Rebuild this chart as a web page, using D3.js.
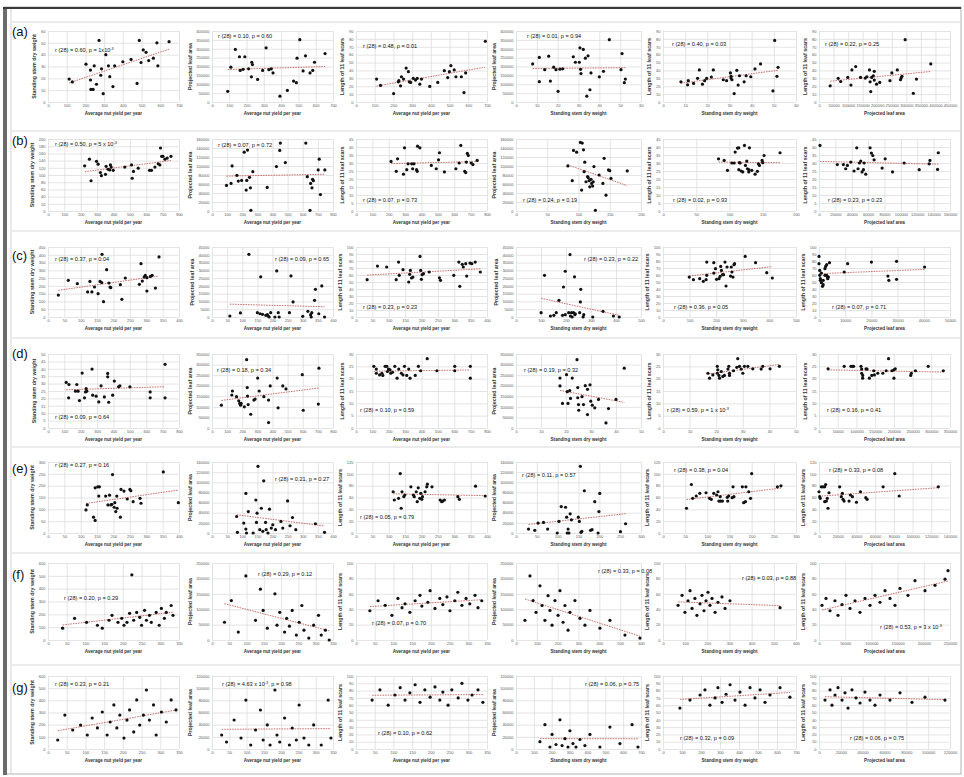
<!DOCTYPE html>
<html><head><meta charset="utf-8">
<script src="https://cdn.jsdelivr.net/npm/d3@7"></script>
<style>
body{margin:0;background:#fff}
svg{display:block}
text{font-family:"Liberation Sans",Arial,sans-serif}
</style>
</head><body>
<svg id="fig" width="964" height="777"></svg>
<script>
// Column titles (x variable, y variable) shared by every row
const xTitles = ["Average nut yield per year","Average nut yield per year","Average nut yield per year","Standing stem dry weight","Standing stem dry weight","Projected leaf area"];
const yTitles = ["Standing stem dry weight","Projected leaf area","Length of 11 leaf scars","Projected leaf area","Length of 11 leaf scars","Length of 11 leaf scars"];
const rowLetters = ["a","b","c","d","e","f","g"];

// Axis ranges per panel: [xMin, xMax, xStep, yMin, yMax, yStep]
const axesA = [[0,700,100,0,60,10],[0,700,100,0,400000,50000],[0,700,100,0,90,10],[0,60,10,0,400000,50000],[0,60,10,0,90,10],[0,450000,50000,0,90,10]];
const axesB = [[0,800,100,0,200,20],[0,800,100,0,160000,20000],[0,800,100,0,45,5],[0,200,50,0,160000,20000],[0,200,50,0,45,5],[0,160000,20000,0,45,5]];
const axesC = [[0,400,50,0,450,50],[0,400,50,0,45000,5000],[0,400,50,0,100,10],[0,500,100,0,45000,5000],[0,500,100,0,100,10],[0,50000,10000,0,100,10]];
const axesD = [[0,800,100,0,50,5],[0,800,100,0,350000,50000],[0,800,100,0,30,5],[0,50,10,0,350000,50000],[0,50,10,0,30,5],[0,350000,50000,0,30,5]];
const axesE = [[0,400,50,0,300,50],[0,400,50,0,140000,20000],[0,400,50,0,120,20],[0,300,50,0,140000,20000],[0,300,50,0,120,20],[0,140000,20000,0,120,20]];
const axesF = [[0,350,50,0,600,100],[0,350,50,0,250000,50000],[0,350,50,0,100,20],[0,600,100,0,250000,50000],[0,600,100,0,100,20],[0,250000,50000,0,100,20]];
const axesG = [[0,350,50,0,600,100],[0,350,50,0,120000,20000],[0,350,50,0,100,10],[0,700,100,0,120000,20000],[0,700,100,0,100,10],[0,120000,20000,0,100,10]];

// Correlation statements (^ marks an exponent)
const notesA = ["r (28) = 0.60, p = 1x10^-3","r (28) = 0.10, p = 0.60","r (28) = 0.48, p = 0.01","r (28) = 0.01, p = 0.94","r (28) = 0.40, p = 0.03","r (28) = 0.22, p = 0.25"];
const notesB = ["r (28) = 0.50, p = 5 x 10^-3","r (28) = 0.07, p = 0.72","r (28) = 0.07, p = 0.73","r (28) = 0.24, p = 0.19","r (28) = 0.02, p = 0.93","r (28) = 0.23, p = 0.23"];
const notesC = ["r (28) = 0.37, p = 0.04","r (28) = 0.09, p = 0.65","r (28) = 0.23, p = 0.23","r (28) = 0.23, p = 0.22","r (28) = 0.36, p = 0.05","r (28) = 0.07, p = 0.71"];
const notesD = ["r (28) = 0.09, p = 0.64","r (28) = 0.18, p = 0.34","r (28) = 0.10, p = 0.59","r (28) = 0.19, p = 0.32","r (28) = 0.59, p = 1 x 10^-3","r (28) = 0.16, p = 0.41"];
const notesE = ["r (28) = 0.27, p = 0.16","r (28) = 0.21, p = 0.27","r (28) = 0.05, p = 0.79","r (28) = 0.11, p = 0.57","r (28) = 0.38, p = 0.04","r (28) = 0.33, p = 0.08"];
const notesF = ["r (28) = 0.20, p = 0.29","r (28) = 0.29, p = 0.12","r (28) = 0.07, p = 0.70","r (28) = 0.33, p = 0.08","r (28) = 0.03, p = 0.88","r (28) = 0.53, p = 3 x 10^-3"];
const notesG = ["r (28) = 0.23, p = 0.21","r (28) = 4.63 x 10^-3, p = 0.98","r (28) = 0.10, p = 0.62","r (28) = 0.06, p = 0.75","r (28) = 0.32, p = 0.09","r (28) = 0.06, p = 0.75"];

// ---- Row (a) ----
const a1x = [113,130,203,227,227,229,241,247,259,273,282,286,295,309,323,330,347,356,400,444,476,488,497,509,524,538,563,582,587,647];
const a1y = [19.4,17,32,27,18.6,10.6,10.6,30.6,15,52,22.6,28,7,40,30.6,21.4,13,30.6,34,36,15.7,52,33.4,44,42,35,37,50,30.6,51];
const a2x = [91,109,135,159,163,190,180,230,234,212,228,264,293,313,329,343,353,393,436,472,488,492,508,527,541,567,583,593,654];
const a2y = [60000,196000,296000,255000,178000,255000,184000,224000,211000,187000,142000,127000,178000,305000,182000,187000,164000,33000,65000,118000,109000,247000,351000,175000,260000,164000,178000,224000,273000];
const a3x = [110,131,201,226,229,238,243,254,268,280,285,292,306,318,327,341,350,394,437,472,490,499,507,525,534,563,577,586,691];
const a3y = [29,21,10.7,25.6,27,20.5,32,29,43,38.5,25.6,24.8,30,27.8,30,22.6,29,19.7,24.8,39.7,31,38.5,46,40.6,32,32,12,36.8,77];
const a4x = [8,11.2,11.2,13.8,15.7,16.5,18.1,19.2,20.2,21.1,22.4,27.5,28.5,30.4,30.7,31,31.2,32.3,33.3,34.6,35.5,36,34,40,42,44.8,50.4,50.9,52,52.5];
const a4y = [214500,251000,114500,182000,258000,118000,196000,182000,60000,185000,187000,255000,224000,224000,305000,184000,160000,296000,247000,260000,69000,164000,33000,142000,173000,351000,182000,273000,109000,129000];
const a5x = [8.1,11.1,11.4,13.8,15.6,16.4,17.8,18.8,19.7,21.8,22.7,27.2,28.7,30.4,30.7,30.7,31.1,32.1,33.3,33.9,34.5,36.6,37.5,39.6,41.5,44,49.6,50.4,51.4,51.9];
const a5y = [25.6,21.8,27,23.5,30,40.6,22.6,27,30,31.6,40.6,28.2,27,36.8,30.3,32.5,28.2,10.7,40.2,21.4,33.3,25.6,33.3,32,41.9,48.3,14.1,78,32.5,44];
const a6x = [38400,65900,74600,98800,109700,113000,126000,142700,159000,164600,173400,175600,177800,181100,186600,189900,189900,197600,208600,243700,250300,269000,280000,282000,285000,296000,334800,324000,384000];
const a6y = [20.5,30,26,31.2,21.4,40.6,44.9,31.2,30.3,32,40.6,25.6,13.2,31.2,33.3,38.9,27.8,22.6,24.8,27,36.8,40.6,28.2,30.3,32.5,79,29,11,48.3];

// ---- Row (b) ----
const b1x = [224,253,263,296,306,320,326,351,355,367,377,381,386,398,469,510,514,522,551,620,632,653,673,683,687,694,702,714,728,751];
const b1y = [125.6,144,84,138,130,107,98,102,124,116,114,128,122,113,122,128,91,110,119,113,113,122,131,128,175,152,152,144,147,152];
const b2x = [96,126,133,165,174,196,213,226,230,235,248,254,257,270,365,426,448,452,485,620,630,652,661,665,670,702,709,717,746,648];
const b2y = [56800,61300,100200,79300,66500,68000,130800,46400,68000,135300,74800,51600,1500,87500,52300,98700,134600,151000,107700,151000,76300,61300,51600,70300,67300,91200,115100,36600,91200,1500];
const b3x = [214,246,254,290,296,310,318,340,346,354,370,374,376,390,460,490,504,510,540,610,630,640,664,670,674,680,686,704,714,740];
const b3y = [31,24.8,32.6,23,39.5,25.8,29.5,29.5,26.4,29.5,25.8,24.8,40.5,39.5,28.5,26.4,32,36.4,24.4,26.4,30,41,24.8,24,30.6,36,34.7,30,29,31.6];
const b4x = [83,92,97,103,106,108,109,110,112,114.5,115.6,117,118,120,121,122.6,123.6,124.7,105,127,133,139,141,144,148,150,152,178,90];
const b4y = [100200,134600,130800,152500,151000,136000,87500,108400,65000,76300,74000,67300,53800,70300,61300,55300,65000,98700,46400,1500,80000,61300,117000,35100,91200,89700,72500,89000,67300];
const b5x = [83.5,92,97,103.5,107,108.5,112,114,114,115,116,117.5,120,122.5,124,126,127,129,129,130,133.5,138.5,142,143.5,145,149,150,152,176];
const b5y = [32.6,31.6,25.4,30,30,36.8,39.3,39.5,25.8,30.2,30,25,24.4,41,28.5,31.2,26.4,24.4,25.8,39.5,25.4,23,24.8,29.5,28.5,31.6,30.2,34.7,36.4];
const b6x = [1200,22400,29800,32600,34700,38800,42800,46100,47700,49400,51000,52600,54300,55100,57100,62400,64000,65700,67300,77100,80800,89800,104000,122400,134600,135500,144800,145700];
const b6y = [41,29,29,26.4,28.5,30.6,25,39.5,26.4,30,31.2,24.4,25.8,30,23,39.5,36.2,34.7,32,26.8,32.6,24.4,30,25.8,29.5,31.6,26,36.4];

// ---- Row (c) ----
const c1x = [31.6,62,89.5,121,128,134,142,153,158.9,164,165,169.5,179,186,189.5,191.6,221,225.6,236,279,284,288,293.7,297,302,312.6,318,302,328,339];
const c1y = [141,236,214,161,229,161,193,150,229,221,403,98.6,304,218.6,193,188.6,208,113.6,250.7,210,343,231,257,268,253,261,268,167,186,386];
const c2x = [59,94,122,150,159,161,167,178,183,189,186,194,208,214,219,222,256,261,268,300,317,326,328,330,339,342,353,363,372];
const c2y = [640,2600,40300,2800,2100,25800,1700,1070,1500,0,640,2800,0,29600,2800,0,2800,26400,9660,430,3650,1500,0,2800,10700,17800,2100,20000,0];
const c3x = [34,65.5,93.6,122.7,130,132,143.5,161,164,166,169.5,173.7,195.5,197.6,199.7,201.8,206,223.6,254.8,258,298.5,314,317,324.5,327.6,335,338,348,353.6,364,379.6];
const c3y = [53.3,72.8,71.4,53.3,78.5,59.5,67.6,50,61,66.6,55.7,57,86.6,66.6,53.8,60.5,61.9,64.3,56,52.4,59.5,78.5,43.8,75.2,71.4,76.2,58.5,77,76.2,78.5,64.3];
const c4x = [100.5,114,137.7,151.5,161,172,186,190,197,197,210.7,216,217.6,221.7,224.5,230,234,235.5,237,254.7,257.5,259,268.5,271,307,348,389.7,413];
const c4y = [2800,26800,640,1070,2800,10700,1070,19300,29400,1500,2800,40100,640,2800,0,2800,25800,1500,2100,2800,9660,17800,0,1500,0,3650,640,0];
const c5x = [98.7,114.5,138,151.6,162,164.5,164.5,191,191,197.4,201.3,210.6,214.5,217,219.7,223.7,227.6,232.9,236.9,240.8,254,256.6,259,263,267,269,309,348,390,411];
const c5y = [57.1,53.3,54.7,51,53.3,78.5,59.5,62.8,77.6,69,53.8,54.7,58,72.3,66.6,60.5,60.5,78.5,44.3,71.4,58.5,71.4,64.3,57.1,74.7,76.2,86.6,77.6,63.3,55.7];
const c6x = [0,0,270,270,530,530,930,930,1330,1600,1600,2270,2270,2530,2930,2930,3200,3330,3600,4000,9600,10930,20000,26300,26660,29600,29600,40300];
const c6y = [86.6,76.2,66.6,59.5,54.7,52.4,62.8,49,43.8,46.2,52.4,59.5,69,72.3,74.7,59.5,57.1,54.7,57.1,77.6,64.3,76.2,78.5,58.5,52.4,79.5,53.8,71.4];

// ---- Row (d) ----
const d1x = [111,126,128,168,176,184,192,208.6,223,229,233,237,269,273,294,310,324,344,364.5,364.5,370.6,395,405,431,439,500,624,624,715,715];
const d1y = [30.8,20.4,29.4,24.9,29.4,24.9,18.5,37.1,20.4,24.4,26.7,24.9,39.8,22.2,21.5,17.6,28.5,21,34.6,36.9,17.4,22.2,31.7,27.8,28.5,27.8,24.4,20.4,43,20.4];
const d2x = [62,131,135,162,177,183,189,193,214,229,233,239,235,256,277,285,302,312,343,374,374,385,431,437,468,489,597,603,707,703];
const d2y = [108000,156000,175000,148000,129000,116000,108000,116000,100000,323000,191000,111000,151000,65000,132000,137000,236000,175000,148000,132000,25500,199000,236000,95500,199000,185000,252000,84000,283000,113000];
const d3x = [109,124,124,144,158,164,178,188,192,198,208,212,223,237,251,261,277,287,296,310,322,330,362,381,395,435,494,603,603,698,698];
const d3y = [25,23.9,22.2,21.5,22.2,21.3,25,25,22.9,23.9,23.6,22.2,22.6,25,20.2,23.9,22.2,21.5,25,21.3,23.9,20.2,21.3,25,23.2,28.1,23.2,25,23.2,25,20.2];
const d4x = [17.6,17.6,18.6,20.2,20.5,20.8,21.5,21.8,22.5,24.4,24.7,24.7,25,25.1,26.4,27,27.7,28.6,28.6,29.6,29.9,30.5,31.5,33,36,37,40,43.3];
const d4y = [236000,199000,116000,252000,172000,116000,177000,140000,236000,323000,191000,143000,111000,84000,148000,111000,200000,183000,63700,204000,127000,108000,95500,135000,23900,92000,135000,283000];
const d5x = [16.9,17.5,18.75,20.4,20.4,20.6,21,21.25,21.9,22.5,23.1,24.4,24.75,25,25,26.5,27.75,28.1,28.75,29.4,30,30.6,31.9,33.75,36.9,37.5,40.25,43.75];
const d5y = [22.2,20.2,21.5,22.2,25,23.6,21.3,20.2,22.9,20.9,21.3,23.9,25,22.2,21.3,23.2,24.6,28.1,25,23.9,22.2,25,25,24,23.9,25,24,25];
const d6x = [24200,67300,85300,89800,92500,112200,114000,114000,116700,116700,125700,128400,134600,141000,146300,148100,157100,170500,179500,185800,194800,200200,200200,203700,245000,246800,257600,291700,332100];
const d6y = [24,25,25,25,25,25,23.9,22.2,21.3,20.2,24,23.9,20.2,21.3,23.2,21.5,22.2,22.2,23.2,28.1,23.2,23.6,20.2,24,21.3,22.2,23.2,25,23.2];

// ---- Row (e) ----
const e1x = [116,120,139,144,144,152,157,155,176,183,188,192,195,197,202,204,207,210,211,221,223,232,250,253,242,260,281,284,352,398];
const e1y = [97.6,118.6,67,53,191,195,195,156,156,118.6,160,118.6,121,247,108.8,128,90.7,156,104.6,67,184,177,184,178.6,143.7,132.5,146.5,125.6,258,128];
const e2x = [81.5,84,105,112,114,120,112,136,145,147,149,152,158,163,168,171,177,179,185,190,196,201,210,228,234,250,258,266,277,342,372];
const e2y = [32500,1300,19500,7800,0,42300,78100,0,65100,20800,39100,131500,6500,48800,3300,102900,20800,6500,0,46900,9800,16300,6500,22800,9800,63200,14300,30600,6500,18200,1300];
const e3x = [113.5,117,130,135,138,140.5,146,149,167.6,175,178,184,187,190,194.6,198,201,203,211,216,218,232,257,261.6,265,270,311,315.6,365,394.6];
const e3y = [69.7,55.8,58.6,100.4,41.8,69.7,61.4,64.2,78,64.2,61.4,69.7,53,76.4,58.6,67,57,61.4,69.7,78,82.6,78,55.8,53,54,55.8,61.4,57,79.2,62.5];
const e4x = [30,45,53,66,76,99,103,108.5,119,121.6,123,125,127,130,133,149.6,152,154.5,156,158,164,179,182.5,189,197,201,199,250.7,263];
const e4y = [7800,5200,19500,20800,7800,0,22800,52100,50800,31200,0,7800,0,37800,26000,31200,22800,131500,1300,3300,83300,5200,6500,61800,0,78100,42300,2600,18200];
const e5x = [53,64,67,75,83,97,105,109,114.5,121,124,126,129,130,134,145,146,148,156,158,160,179,182,186,187,193.5,197.5,200,258,266];
const e5y = [41.8,82,58.6,62.5,67,68,58.6,57,67,64.2,69.7,54,61.4,54,54,60.3,54,62.5,59.7,78,61.4,78,51.3,53,78,69.7,58.6,100.4,78,79.8];
const e6x = [0,700,1400,2500,4300,6100,6100,7100,7900,8900,9600,10700,22100,23900,25000,25700,26800,32100,33600,35700,40000,44300,50000,51400,68500,81000,85700,127500];
const e6y = [69.7,61.4,58.6,78,78,78,53,82,54,58.6,41.8,68,78,61.4,67,57,54,54,64.2,61.4,52,69.7,59.7,57,78,100.4,62.5,78];

// ---- Row (f) ----
const f1x = [39,71,103,132,145,163,171,187,197,203,211,218,224,229,237,245,250,258,263,271,276,289,297,303,311,316,329,334];
const f1y = [92,169,138,115,92,154,192,138,169,115,138,208,508,154,215,177,115,231,154,192,138,215,115,246,169,215,269,192];
const f2x = [36,56,76,98,126,140,148,160,182,188,196,210,216,224,232,244,252,260,266,280,294,308,316,328,339];
const f2y = [57700,128000,25600,208000,64000,165000,96000,38500,150000,48000,90000,25600,70500,45000,96000,16000,57700,112000,32000,6400,48000,80000,16000,32000,0];
const f3x = [37,59,78,96,112,123,131,144,158,171,176,192,198,211,224,232,243,251,264,272,283,294,304,318,326,336];
const f3y = [38,51,45,32,54,42,47,36,51,58,44,49,64,41,54,46,56,38,51,62,45,54,47,58,42,51];
const f4x = [43,67,82,96,115,125,139,154,163,173,187,202,211,226,235,250,259,283,307,331,355,403,451,523,595];
const f4y = [64000,208000,128000,90000,176000,112000,64000,144000,96000,48000,128000,80000,160000,57700,112000,32000,90000,128000,70500,48000,96000,38500,64000,16000,6400];
const f5x = [68,86,99,113,122,131,144,153,167,176,185,194,203,212,221,235,248,266,280,302,528];
const f5y = [45,58,36,51,64,41,54,32,47,58,38,51,62,45,54,36,49,56,41,51,42];
const f6x = [5700,13400,21000,30500,36300,43900,51500,59200,68700,78200,87800,97300,106900,116400,126000,135500,145000,154600,169800,183200,202300,221400,240500,246200];
const f6y = [45,54,38,51,32,46,58,41,51,36,54,45,58,49,64,54,45,67,58,77,64,71,79,90];

// ---- Row (g) ----
const g1x = [26,45,66,87,105,118,132,145,158,166,176,184,192,203,211,218,229,237,245,255,263,271,282,289,303,316,329,342];
const g1y = [74,279,156,197,115,255,173,304,115,222,362,173,279,90,238,321,140,403,197,279,485,238,362,115,304,222,403,321];
const g2x = [28,42,64,84,98,112,126,140,148,160,168,182,188,196,210,224,232,244,252,266,280,294,316,336,344];
const g2y = [23000,11500,47700,18100,80500,6600,31200,64100,14800,39500,6600,97000,23000,11500,51000,6600,34500,14800,72300,18100,6600,39500,6600,80500,18100];
const g3x = [43,64,86,104,118,131,144,158,171,184,198,211,224,232,246,256,273,283,299,310,326,339];
const g3y = [67,81,60,74,84,67,77,88,64,81,71,85,67,78,60,81,70,90,67,74,81,64];
const g4x = [134,162,190,202,224,246,258,274,291,302,319,336,358,386,414,470,526,582,650,683];
const g4y = [12000,40000,3300,24000,7400,48000,5700,17000,3300,30000,9000,3300,15600,5700,24000,3300,36000,9000,40000,3300];
const g5x = [89,142,195,221,247,274,289,311,332,353,379,405,432,458,484,511,537,563,616,668];
const g5y = [56,67,74,81,60,70,84,64,75,88,67,78,60,84,70,81,64,74,84,71];
const g6x = [5500,10100,11900,14700,17400,21100,23800,26600,30200,33900,37600,42100,46700,51300,55900,65000,74200,85200,97100,115400];
const g6y = [67,81,60,74,84,67,77,56,81,70,63,78,67,60,74,67,77,64,71,67];

// ---- Layout ----
const colX = [[48,179],[212,333],[356,487],[516,641],[663,796],[819,950]];
const rowY = [[31,102],[139,211],[247,317],[354,428],[462,533],[563,640],[676,749]];
const letterY = [31,140,255,353,468,574,687];
const separators = [22,131,231,338,447,553,665];
const notePos = [
  [[55,50],[218,36],[363,46],[527,36],[672,44],[825,44]],
  [[55,144],[218,145],[363,200],[523,200],[673,200],[828,200]],
  [[55,259],[275,259],[363,307],[584,259],[674,307],[832,307]],
  [[55,417],[217,370],[360,410],[524,370],[667,410],[827,410]],
  [[55,465],[275,479],[360,517],[522,475],[674,470],[829,470]],
  [[64,598],[258,574],[372,623],[598,571],[742,578],[880,627]],
  [[55,684],[222,684],[378,733],[585,684],[680,738],[850,738]]
];

const rows = [
  {axes: axesA, notes: notesA, data: [[a1x,a1y],[a2x,a2y],[a3x,a3y],[a4x,a4y],[a5x,a5y],[a6x,a6y]]},
  {axes: axesB, notes: notesB, data: [[b1x,b1y],[b2x,b2y],[b3x,b3y],[b4x,b4y],[b5x,b5y],[b6x,b6y]]},
  {axes: axesC, notes: notesC, data: [[c1x,c1y],[c2x,c2y],[c3x,c3y],[c4x,c4y],[c5x,c5y],[c6x,c6y]]},
  {axes: axesD, notes: notesD, data: [[d1x,d1y],[d2x,d2y],[d3x,d3y],[d4x,d4y],[d5x,d5y],[d6x,d6y]]},
  {axes: axesE, notes: notesE, data: [[e1x,e1y],[e2x,e2y],[e3x,e3y],[e4x,e4y],[e5x,e5y],[e6x,e6y]]},
  {axes: axesF, notes: notesF, data: [[f1x,f1y],[f2x,f2y],[f3x,f3y],[f4x,f4y],[f5x,f5y],[f6x,f6y]]},
  {axes: axesG, notes: notesG, data: [[g1x,g1y],[g2x,g2y],[g3x,g3y],[g4x,g4y],[g5x,g5y],[g6x,g6y]]}
];

const svg = d3.select("#fig");
svg.append("rect").attr("width",964).attr("height",777).attr("fill","#fff");

// Outer frame
svg.append("rect").attr("x",4).attr("y",7).attr("width",957).attr("height",767)
  .attr("fill","none").attr("stroke","#a0a0a0").attr("stroke-width",0.8);
svg.append("rect").attr("x",3).attr("y",7).attr("width",4).attr("height",768).attr("fill","#6b6b6b");
svg.append("rect").attr("x",3).attr("y",7).attr("width",958).attr("height",2).attr("fill","#3a3a3a");
svg.append("line").attr("x1",11).attr("x2",11).attr("y1",9).attr("y2",774)
  .attr("stroke","#c8c8c8").attr("stroke-width",0.8);
separators.forEach(yv => {
  svg.append("line").attr("x1",12).attr("x2",960).attr("y1",yv).attr("y2",yv)
    .attr("stroke","#d8d8d8").attr("stroke-width",1);
});

function leastSquares(xs, ys) {
  const mx = d3.mean(xs), my = d3.mean(ys);
  let sxy = 0, sxx = 0;
  xs.forEach((v,i) => { sxy += (v-mx)*(ys[i]-my); sxx += (v-mx)*(v-mx); });
  const b = sxx ? sxy/sxx : 0;
  return [my - b*mx, b];
}

// Statement text; an exponent after ^ is raised and the following text drops back
function drawNote(g, str, x, y) {
  const t = g.append("text").attr("x",x).attr("y",y).attr("dy","0.35em")
    .attr("font-size",5.6).attr("fill","#111");
  const parts = str.split(/\^(-?\d+)/);
  let raised = false;
  parts.forEach((p,i) => {
    if (!p) return;
    if (i % 2 === 1) {
      t.append("tspan").attr("dy",-2).attr("font-size",3.8).text(p);
      raised = true;
    } else {
      const s = t.append("tspan").text(p);
      if (raised) { s.attr("dy",2); raised = false; }
    }
  });
}

rows.forEach((row, ri) => {
  const [T,B] = rowY[ri];
  svg.append("text").attr("x",12).attr("y",letterY[ri]).attr("dy","0.35em")
    .attr("font-family","Liberation Serif, Times New Roman, serif").attr("font-size",13)
    .attr("fill","#111").text("(" + rowLetters[ri] + ")");
  row.data.forEach((pair, ci) => {
    const [L,R] = colX[ci];
    const [x0,x1,dx,y0,y1,dy] = row.axes[ci];
    const [xs, ys] = pair;
    const x = d3.scaleLinear().domain([x0,x1]).range([L,R]);
    const y = d3.scaleLinear().domain([y0,y1]).range([B,T]);
    const xt = d3.range(x0, x1 + dx/2, dx);
    const yt = d3.range(y0, y1 + dy/2, dy);
    const g = svg.append("g");

    const gx = g.append("g").attr("transform",`translate(0,${B})`)
      .call(d3.axisBottom(x).tickValues(xt).tickSize(-(B-T)).tickPadding(2.5).tickFormat(d => String(d)));
    const gy = g.append("g").attr("transform",`translate(${L},0)`)
      .call(d3.axisLeft(y).tickValues(yt).tickSize(-(R-L)).tickPadding(2.5).tickFormat(d => String(d)));
    [gx, gy].forEach(a => {
      a.select(".domain").remove();
      a.selectAll(".tick line").attr("stroke","#d9d9d9").attr("stroke-width",0.7);
      a.selectAll(".tick text").attr("font-size",4).attr("fill","#595959")
        .attr("font-family","Liberation Sans, Arial, sans-serif");
    });

    // axis titles
    const maxLen = d3.max(yt, v => String(v).length);
    g.append("text").attr("x",(L+R)/2).attr("y",B+11).attr("dy","0.35em")
      .attr("text-anchor","middle").attr("font-size",4.6).attr("font-weight","bold")
      .attr("fill","#333").text(xTitles[ci]);
    const tx = L - 5.5 - maxLen*2.22 - 3.5;
    g.append("text").attr("transform",`translate(${tx},${(T+B)/2}) rotate(-90)`)
      .attr("dy","0.35em").attr("text-anchor","middle").attr("font-size",5.3)
      .attr("font-weight","bold").attr("fill","#333").text(yTitles[ci]);

    // trend line from least squares fit
    const [a0, b0] = leastSquares(xs, ys);
    const [xa, xb] = d3.extent(xs);
    g.append("line")
      .attr("x1",x(xa)).attr("y1",y(a0 + b0*xa)).attr("x2",x(xb)).attr("y2",y(a0 + b0*xb))
      .attr("stroke","#c0504d").attr("stroke-width",0.8).attr("stroke-dasharray","1.6,1");

    g.selectAll("circle").data(xs).join("circle")
      .attr("cx", d => x(d)).attr("cy", (d,i) => y(ys[i])).attr("r",1.6).attr("fill","#111");

    const [nx, ny] = notePos[ri][ci];
    drawNote(g, row.notes[ci], nx, ny);
  });
});
</script>
</body></html>
